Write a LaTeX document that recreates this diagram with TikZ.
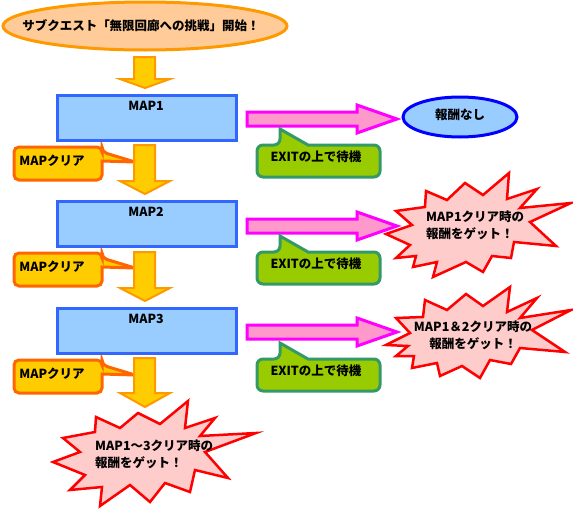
\documentclass[tikz,border=0pt]{standalone}
\usepackage{fontspec}
\setmainfont{Noto Sans CJK JP}
\definecolor{titlefill}{HTML}{FFCC99}
\definecolor{titleline}{HTML}{FF9900}
\definecolor{arrfill}{HTML}{FFCC00}
\definecolor{arrline}{HTML}{FF9900}
\definecolor{mapfill}{HTML}{99CCFF}
\definecolor{mapline}{HTML}{3366FF}
\definecolor{clrfill}{HTML}{FFCC00}
\definecolor{clrline}{HTML}{FF6600}
\definecolor{pinkfill}{HTML}{FF99CC}
\definecolor{pinkline}{HTML}{FF00FF}
\definecolor{exitfill}{HTML}{99CC00}
\definecolor{exitline}{HTML}{339966}
\definecolor{nonefill}{HTML}{99CCFF}
\definecolor{noneline}{HTML}{0000FF}
\definecolor{burstfill}{HTML}{FFCCCC}
\definecolor{burstline}{HTML}{FF0000}
\tikzset{
  txt/.style={font=\bfseries\fontsize{12.5}{17}\selectfont, inner sep=0pt, text=black},
  downarr/.style={fill=arrfill, draw=arrline, line width=2pt, line join=miter},
  mapbox/.style={fill=mapfill, draw=mapline, line width=3pt},
  clearco/.style={fill=clrfill, draw=clrline, line width=3pt},
  pinkarr/.style={fill=pinkfill, draw=pinkline, line width=3pt, line join=miter},
  exitco/.style={fill=exitfill, draw=exitline, line width=3pt},
  burst/.style={fill=burstfill, draw=burstline, line width=2.5pt, line join=miter},
  titleell/.style={fill=titlefill, draw=titleline, line width=3pt},
  noneell/.style={fill=nonefill, draw=noneline, line width=3pt}
}
\newcommand\dnarrow[3]{%
  \draw[downarr] (134,#1) -- (155,#1) -- (155,#2) -- (170,#2) -- (145,#3) -- (120,#2) -- (134,#2) -- cycle;}
\newcommand\pkarrow[1]{%
  \draw[pinkarr] (247,{#1-7}) -- (357,{#1-7}) -- (357,{#1-14}) -- (397,#1) -- (357,{#1+14}) -- (357,{#1+7}) -- (247,{#1+7}) -- cycle;}
\newcommand\clearcallout[1]{%
  \draw[clearco] (58,#1) [rounded corners=5] -- (102,#1) -- (102,{#1+5}) [sharp corners] -- (135,{#1+15}) -- (102,{#1+14}) [rounded corners=5] -- (102,{#1+33}) -- (14,{#1+33}) -- (14,#1) -- cycle;}
\newcommand\exitcallout[1]{%
  \draw[exitco] (330,#1) [rounded corners=6] -- (380,#1) -- (380,{#1+32}) -- (257,{#1+32}) -- (257,#1) -- (280,#1) [sharp corners] -- (280,{#1-16}) -- (308,#1) -- cycle;}
\begin{document}
\begin{tikzpicture}[x=1pt,y=-1pt]
\useasboundingbox (0,0) rectangle (573,514);
% title
\draw[titleell] (145,26) ellipse [x radius=142, y radius=24];
\node[txt] (title) at (141,26) {サブクエスト「無限回廊への挑戦」開始！};
% starbursts
\draw[burst] (509,173) -- (507,199) -- (537,189) -- (520,208) -- (571,203) -- (530,222) -- (556,246) -- (514,242) -- (511,258) -- (492,256) -- (483,272) -- (466,262) -- (433,277) -- (437,262) -- (413,267) -- (416,256) -- (396,258) -- (410,245) -- (386,234) -- (412,225) -- (396,211) -- (425,207) -- (426,191) -- (447,200) -- (465,183) -- (483,195) -- cycle;
\draw[burst] (510,287) -- (507,312) -- (537,298) -- (520,318) -- (571,310) -- (532,330) -- (565,352) -- (520,348) -- (511,364) -- (490,360) -- (480,378) -- (462,366) -- (440,376) -- (437,363) -- (412,368) -- (414,356) -- (396,356) -- (408,346) -- (386,345) -- (410,333) -- (396,318) -- (423,317) -- (425,300) -- (447,310) -- (466,294) -- (483,306) -- cycle;
\draw[burst] (188,401) -- (185,428) -- (215,418) -- (200,436) -- (256,433) -- (205,452) -- (228,478) -- (195,470) -- (190,492) -- (165,483) -- (150,502) -- (130,485) -- (100,506) -- (102,487) -- (70,490) -- (85,475) -- (53,462) -- (80,452) -- (63,438) -- (95,432) -- (96,417) -- (120,428) -- (138,413) -- (160,424) -- cycle;
% MAP clear callouts
\clearcallout{147}
\node[txt] (clr1) at (52,161) {MAPクリア};
\clearcallout{253}
\node[txt] (clr2) at (52,267) {MAPクリア};
\clearcallout{360}
\node[txt] (clr3) at (52,374) {MAPクリア};
% down arrows
\dnarrow{57}{79}{88}
\dnarrow{145}{181}{194}
\dnarrow{252}{288}{301}
\dnarrow{358}{393}{407}
% pink arrows
\pkarrow{119}
\pkarrow{226}
\pkarrow{332}
% map boxes
\draw[mapbox] (57,95) rectangle (236,140);
\node[txt] (map1) at (146,106) {MAP1};
\draw[mapbox] (57,201) rectangle (236,246);
\node[txt] (map2) at (146,212) {MAP2};
\draw[mapbox] (57,308) rectangle (236,353);
\node[txt] (map3) at (146,319) {MAP3};
% EXIT callouts
\exitcallout{145}
\node[txt] (exit1) at (316,157) {EXITの上で待機};
\exitcallout{252}
\node[txt] (exit2) at (316,264) {EXITの上で待機};
\exitcallout{359}
\node[txt] (exit3) at (316,371) {EXITの上で待機};
% no reward
\draw[noneell] (460,117) ellipse [x radius=57, y radius=20];
\node[txt] (none) at (460,115) {報酬なし};
% burst texts
\node[txt, anchor=north west, align=left] (rew1) at (426,211) {MAP1クリア時の\\報酬をゲット！};
\node[txt, align=center] (rew2) at (473,335) {MAP1＆2クリア時の\\報酬をゲット！};
\node[txt, anchor=north west, align=left] (rew3) at (95,440) {MAP1～3クリア時の\\報酬をゲット！};
\end{tikzpicture}
\end{document}
